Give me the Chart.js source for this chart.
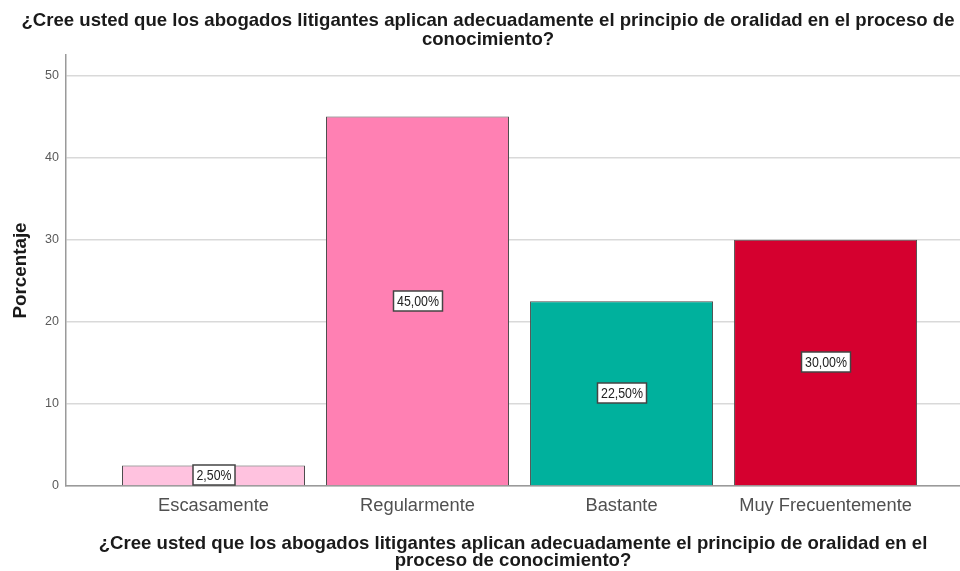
<!DOCTYPE html>
<html>
<head>
<meta charset="utf-8">
<script src="https://cdn.jsdelivr.net/npm/chart.js@4.4.1/dist/chart.umd.min.js"></script>
<style>
  html, body { margin: 0; padding: 0; background: #fff; }
</style>
</head>
<body>
<canvas id="myChart" width="960" height="571"></canvas>
<script>
const ctx = document.getElementById('myChart').getContext('2d');

const categories = ['Escasamente', 'Regularmente', 'Bastante', 'Muy Frecuentemente'];
const percentages = [2.5, 45, 22.5, 30];
const barColors = ['#ffc2df', '#ff80b3', '#00b19d', '#d5002f'];
const yTicks = [0, 10, 20, 30, 40, 50];
const question = ['¿Cree usted que los abogados litigantes aplican adecuadamente el principio de oralidad en el proceso de', 'conocimiento?'];
const axisQuestion = ['¿Cree usted que los abogados litigantes aplican adecuadamente el principio de oralidad en el', 'proceso de conocimiento?'];

const FONT = '"Liberation Sans", Arial, sans-serif';

// white boxes with the percentage in the middle of each bar
const boxLabels = {
  id: 'boxLabels',
  afterDatasetsDraw(chart) {
    const c = chart.ctx;
    const meta = chart.getDatasetMeta(0);
    c.save();
    c.font = '14px ' + FONT;
    c.textAlign = 'center';
    c.textBaseline = 'middle';
    meta.data.forEach((bar, i) => {
      const text = percentages[i].toFixed(2).replace('.', ',') + '%';
      const tw = Math.min(c.measureText(text).width, text.length * 7);
      const w = Math.round(tw + 7);
      const h = 20;
      const cx = Math.round(bar.x);
      const cy = Math.round((bar.y + bar.base) / 2);
      c.fillStyle = '#fff';
      c.fillRect(cx - w / 2, cy - h / 2, w, h);
      c.strokeStyle = '#444';
      c.lineWidth = 1.5;
      c.strokeRect(cx - w / 2, cy - h / 2, w, h);
      c.fillStyle = '#222';
      c.fillText(text, cx, cy + 1, tw);
    });
    c.restore();
  }
};

const data = {
  datasets: [{
    data: percentages.map((v, i) => ({ x: i, y: v })),
    backgroundColor: barColors,
    borderColor: '#4d4d4d',
    borderWidth: 1,
    barPercentage: 0.897,
    categoryPercentage: 1
  }]
};

const config = {
  type: 'bar',
  data: data,
  options: {
    responsive: false,
    animation: false,
    layout: { padding: { left: 16, right: 0, top: 0, bottom: 0 } },
    plugins: {
      legend: { display: false },
      tooltip: { enabled: false },
      title: {
        display: true,
        text: question,
        color: '#1a1a1a',
        font: { family: FONT, size: 18.6, weight: 'bold', lineHeight: 1.02 },
        padding: { top: 11.5, bottom: 5.5 }
      }
    },
    scales: {
      x: {
        type: 'linear',
        offset: false,
        min: -0.723,
        max: 3.659,
        afterBuildTicks: (scale) => {
          scale.ticks = categories.map((c, i) => ({ value: i }));
        },
        afterFit: (scale) => { scale.height = 85; },
        grid: { display: false, drawTicks: false },
        border: { display: true, color: '#9a9a9a', width: 1.5 },
        ticks: {
          padding: 9,
          color: '#505050',
          font: { family: FONT, size: 18.3 },
          callback: (value) => categories[value]
        },
        title: {
          display: true,
          text: axisQuestion,
          color: '#1a1a1a',
          font: { family: FONT, size: 18.6, weight: 'bold', lineHeight: 0.94 },
          padding: { top: 0, bottom: 1.25 }
        }
      },
      y: {
        min: 0,
        max: 52.5,
        afterBuildTicks: (scale) => {
          scale.ticks = yTicks.map(v => ({ value: v }));
        },
        afterFit: (scale) => { scale.width = 50; },
        grid: { color: '#d9d9d9', lineWidth: 1.5, drawTicks: false },
        border: { display: true, color: '#9a9a9a', width: 1.5 },
        ticks: {
          padding: 7,
          color: '#5a5a5a',
          font: { family: FONT, size: 12.5 }
        },
        title: {
          display: true,
          text: 'Porcentaje',
          color: '#1a1a1a',
          font: { family: FONT, size: 18.8, weight: 'bold', lineHeight: 0.53 },
          padding: { top: 0, bottom: 0 }
        }
      }
    }
  },
  plugins: [boxLabels]
};

const myChart = new Chart(ctx, config);
</script>
</body>
</html>
